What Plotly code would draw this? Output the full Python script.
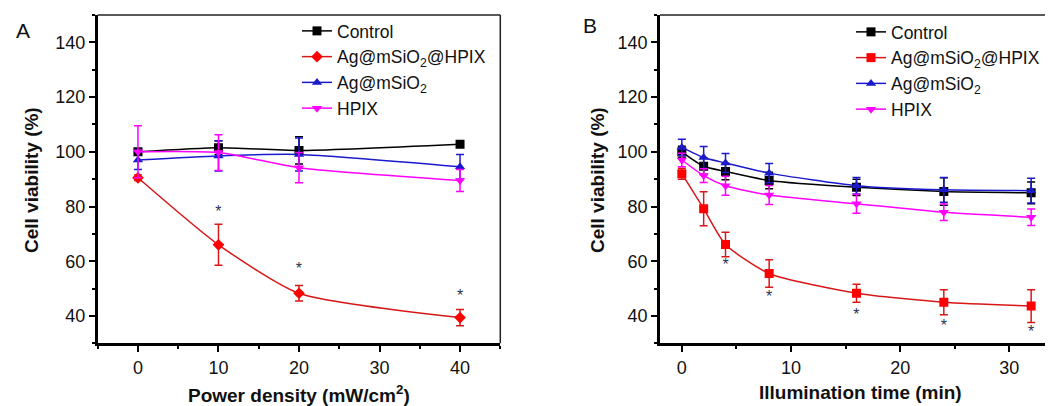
import plotly.graph_objects as go

# ---- Panel A data ----
power = [0, 10, 20, 40]
a_control = [100, 101.5, 100.5, 102.8]
a_control_err = [0.5, 2.5, 5, 0.8]
a_agsi_hpix = [90.5, 66, 48.3, 39.4]
a_agsi_hpix_err = [1, 7.5, 2.8, 3]
a_agsi = [97, 98.5, 99, 94.5]
a_agsi_err = [3.5, 5.5, 6, 4.5]
a_hpix = [100, 99.7, 94.2, 89.5]
a_hpix_err = [9.5, 6.5, 5.5, 4]
a_star_x = [10, 20, 40]
a_star_y = [77.6, 56.7, 47]

# ---- Panel B data ----
time = [0, 2, 4, 8, 16, 24, 32]
b_control = [100, 94.7, 92.8, 89.5, 87, 85.5, 85]
b_control_err = [2, 3, 3, 3, 3, 5, 4]
b_agsi_hpix = [92, 79.2, 66.1, 55.5, 48.3, 45, 43.6]
b_agsi_hpix_err = [2, 6.2, 4.5, 5, 3.3, 4.6, 6]
b_agsi = [101.6, 97.9, 95.9, 92.2, 87.6, 86.1, 85.8]
b_agsi_err = [3, 4, 3.5, 3.5, 3, 4.5, 4.5]
b_hpix = [97, 91.3, 87.6, 84.2, 81, 77.9, 76.1]
b_hpix_err = [2.5, 2.5, 3.5, 3.5, 3.5, 3, 3]
b_star_x = [4, 8, 16, 24, 32]
b_star_y = [58.2, 46.5, 40, 36.1, 33.7]

names = ["Control", "Ag@mSiO<sub>2</sub>@HPIX", "Ag@mSiO<sub>2</sub>", "HPIX"]
colors = ["#000000", "#ff0000", "#1a1acc", "#ff00ff"]
line_colors = ["#000000", "#d81818", "#1a1acc", "#ff00ff"]

FONT = "Liberation Sans, Arial, sans-serif"
OFF = 8  # page body margin
W, H = 1053 - OFF, 406 - OFF

def px(x):
    return (x - OFF) / W

def py(y):
    return (H - (y - OFF)) / H

fig = go.Figure()

def add_series(x, ys, errs, symbols, xa, ya, legend):
    for i, (y, e) in enumerate(zip(ys, errs)):
        fig.add_trace(go.Scatter(
            x=x, y=y, mode="lines+markers", name=names[i],
            xaxis=xa, yaxis=ya, legend=legend,
            line=dict(color=line_colors[i], width=1.5, shape="spline", smoothing=0.6),
            marker=dict(symbol=symbols[i], color=colors[i], size=9,
                        line=dict(width=0)),
            error_y=dict(type="data", array=e, visible=True, color=line_colors[i],
                         thickness=1.5, width=4),
        ))

add_series(power, [a_control, a_agsi_hpix, a_agsi, a_hpix],
           [a_control_err, a_agsi_hpix_err, a_agsi_err, a_hpix_err],
           ["square", "diamond", "triangle-up", "triangle-down"], "x", "y", "legend")
add_series(time, [b_control, b_agsi_hpix, b_agsi, b_hpix],
           [b_control_err, b_agsi_hpix_err, b_agsi_err, b_hpix_err],
           ["square", "square", "triangle-up", "triangle-down"], "x2", "y2", "legend2")

for xs, ys, xa, ya in [(a_star_x, a_star_y, "x", "y"), (b_star_x, b_star_y, "x2", "y2")]:
    fig.add_trace(go.Scatter(x=xs, y=ys, mode="text", text=["*"] * len(xs),
                             textfont=dict(size=16, color="#2a3550", family=FONT),
                             xaxis=xa, yaxis=ya, showlegend=False, hoverinfo="skip"))

# geometry in reference pixels
top_px, bot_px = 15, 343.3
ax_l, ax_r = 97.7, 500.3
bx_l, bx_r = 660, 1053
ydom = [py(bot_px), py(top_px)]

axis_common = dict(showline=True, linecolor="black", linewidth=2.5, mirror=False,
                   ticks="outside", ticklen=6, tickwidth=2, tickcolor="black",
                   showgrid=False, zeroline=False,
                   tickfont=dict(family=FONT, size=18, color="#111"),
                   minor=dict(ticks="outside", ticklen=3, tickwidth=1.5, tickcolor="black"))

fig.update_layout(
    width=W, height=H, margin=dict(l=0, r=0, t=0, b=0),
    paper_bgcolor="white", plot_bgcolor="white",
    font=dict(family=FONT, size=17, color="#111"),
    xaxis=dict(domain=[px(ax_l), px(ax_r)], range=[-5, 45], dtick=10, tick0=0,
               anchor="y", **{**axis_common, "minor": dict(axis_common["minor"], dtick=5)}),
    yaxis=dict(domain=ydom, range=[30, 150], dtick=20, tick0=0, anchor="x",
               **{**axis_common, "minor": dict(axis_common["minor"], dtick=10)}),
    xaxis2=dict(domain=[px(bx_l), px(bx_r)], range=[-2, (bx_r - 681.7) / 10.92], dtick=10, tick0=0,
                anchor="y2", **{**axis_common, "minor": dict(axis_common["minor"], dtick=5)}),
    yaxis2=dict(domain=ydom, range=[30, 150], dtick=20, tick0=0, anchor="x2",
                **{**axis_common, "minor": dict(axis_common["minor"], dtick=10)}),
    legend=dict(x=px(297), y=py(13), xanchor="left", yanchor="top",
                bgcolor="rgba(0,0,0,0)", font=dict(family=FONT, size=17.5, color="#111"),
                itemwidth=30, tracegroupgap=0),
    legend2=dict(x=px(851), y=py(14), xanchor="left", yanchor="top",
                 bgcolor="rgba(0,0,0,0)", font=dict(family=FONT, size=17.5, color="#111"),
                 itemwidth=30, tracegroupgap=0),
)

# top / right frame lines (thinner than main axes)
shapes = [
    dict(type="line", xref="paper", yref="paper", x0=px(ax_l), x1=px(ax_r), y0=ydom[1], y1=ydom[1],
         line=dict(color="#222", width=1.5)),
    dict(type="line", xref="paper", yref="paper", x0=px(ax_r), x1=px(ax_r), y0=ydom[0], y1=ydom[1],
         line=dict(color="#222", width=1.5)),
    dict(type="line", xref="paper", yref="paper", x0=px(bx_l), x1=1, y0=ydom[1], y1=ydom[1],
         line=dict(color="#222", width=1.5)),
]
fig.update_layout(shapes=shapes)

ann = []
def pann(text, xpx, ypx, size, bold=False, angle=0):
    ann.append(dict(text=("<b>%s</b>" % text) if bold else text, x=px(xpx), y=py(ypx),
                    xref="paper", yref="paper", showarrow=False, textangle=angle,
                    xanchor="center", yanchor="middle",
                    font=dict(family=FONT, size=size, color="#111")))

pann("A", 23, 31, 21)
pann("B", 590, 25, 21)
pann("Cell viability (%)", 31, 180, 19, bold=True, angle=-90)
pann("Cell viability (%)", 597, 180, 19, bold=True, angle=-90)
pann("Power density (mW/cm<sup>2</sup>)", 299, 394, 19, bold=True)
pann("Illumination time (min)", 860, 392, 19, bold=True)
fig.update_layout(annotations=ann)

fig.write_html("out.html")
